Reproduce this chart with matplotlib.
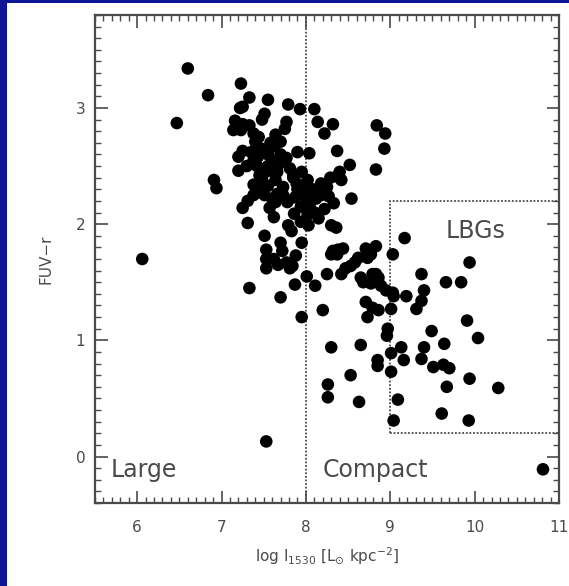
import matplotlib
matplotlib.use('Agg')
import matplotlib.pyplot as plt
from matplotlib.patches import Rectangle
from matplotlib.ticker import MultipleLocator

# log I_1530 and FUV-r
surf_bright = [
    6.60, 6.47, 6.84, 6.06, 6.91, 6.94, 7.23, 7.33, 7.55, 7.79,
    7.93, 8.10, 8.14, 8.22, 8.32, 8.84, 8.94, 8.93, 8.83, 8.37,
    8.52, 8.54, 8.04, 7.90, 7.53, 10.81, 7.33, 7.70, 7.95, 7.87,
    8.01, 8.11, 8.20, 8.25, 8.30, 8.26, 8.26, 8.53, 8.65, 8.63,
    9.09, 9.04, 9.61, 9.93, 10.28, 9.94, 9.67, 9.51, 9.63, 9.70,
    9.37, 9.16, 8.85, 8.85, 9.01, 9.01, 9.13, 9.40, 9.64, 9.49,
    10.04, 9.91, 8.97, 8.96, 9.94, 9.66, 9.84, 9.37, 9.17, 9.03,
    9.40, 9.37, 9.31, 9.19, 9.04, 9.01, 8.86, 8.71, 8.73, 9.03,
    8.95, 8.89, 8.83, 8.68, 8.65, 8.47, 8.53, 8.74, 8.83, 8.71,
    8.44, 8.37, 8.32, 7.84, 7.77, 8.79, 8.77, 8.86, 8.79, 8.58,
    8.62, 8.42, 8.30, 8.36, 8.38, 8.30, 8.18, 8.25, 8.27, 8.18,
    8.33, 8.37, 8.42, 8.29, 8.40, 8.22, 8.73, 8.77,
    7.25, 7.22, 7.51, 7.48, 7.77, 7.75, 7.25, 7.25, 7.16, 7.33,
    7.14, 7.23, 7.38, 7.44, 7.40, 7.64, 7.70, 7.62, 7.47, 7.55,
    7.20, 7.38, 7.42, 7.49, 7.55, 7.57, 7.70, 7.77, 7.20, 7.81,
    7.85, 7.85, 7.89, 7.98, 7.38, 7.47, 7.55, 7.64, 7.73, 7.31,
    7.25, 7.38, 7.51, 7.60, 7.66, 7.57, 7.64, 7.73, 7.78, 7.87,
    7.94, 8.01, 8.05, 7.94, 7.86, 7.62, 7.31, 7.51, 7.70, 7.79,
    7.83, 7.94, 8.03, 7.95, 7.53, 7.53, 7.53, 7.62, 7.67, 7.81,
    7.88, 7.72, 7.35, 7.45, 7.60, 7.66, 7.30, 7.95, 8.02, 8.08,
    8.12, 8.10, 8.15, 8.02, 7.43, 7.58, 7.68, 7.90, 8.06, 7.48,
]
fuv_r = [
    3.34, 2.87, 3.11, 1.70, 2.38, 2.31, 3.21, 3.09, 3.07, 3.03,
    2.99, 2.99, 2.88, 2.78, 2.86, 2.85, 2.78, 2.65, 2.47, 2.63,
    2.51, 2.22, 2.61, 2.62, 0.13, -0.11, 1.45, 1.37, 1.20, 1.48,
    1.55, 1.47, 1.26, 1.57, 0.94, 0.62, 0.51, 0.70, 0.96, 0.47,
    0.49, 0.31, 0.37, 0.31, 0.59, 0.67, 0.60, 0.77, 0.79, 0.76,
    0.84, 0.83, 0.83, 0.78, 0.89, 0.73, 0.94, 0.94, 0.97, 1.08,
    1.02, 1.17, 1.10, 1.04, 1.67, 1.50, 1.50, 1.57, 1.88, 1.74,
    1.43, 1.34, 1.27, 1.38, 1.38, 1.27, 1.26, 1.33, 1.20, 1.41,
    1.43, 1.47, 1.57, 1.50, 1.54, 1.62, 1.64, 1.73, 1.81, 1.79,
    1.79, 1.74, 1.77, 1.64, 1.67, 1.57, 1.49, 1.54, 1.28, 1.67,
    1.71, 1.57, 1.99, 1.97, 1.78, 1.74, 2.35, 2.32, 2.24, 2.25,
    2.18, 2.41, 2.38, 2.40, 2.45, 2.13, 1.71, 1.74,
    3.01, 3.00, 2.95, 2.90, 2.88, 2.82, 2.86, 2.63, 2.89, 2.85,
    2.81, 2.81, 2.78, 2.75, 2.71, 2.77, 2.71, 2.67, 2.65, 2.60,
    2.58, 2.55, 2.50, 2.47, 2.50, 2.46, 2.60, 2.57, 2.46, 2.48,
    2.43, 2.40, 2.35, 2.32, 2.34, 2.32, 2.33, 2.38, 2.32, 2.20,
    2.14, 2.25, 2.25, 2.22, 2.26, 2.14, 2.19, 2.25, 2.19, 2.23,
    2.26, 2.19, 2.14, 2.15, 2.09, 2.06, 2.01, 1.90, 1.84, 1.99,
    1.94, 2.02, 1.99, 1.84, 1.78, 1.70, 1.62, 1.70, 1.65, 1.62,
    1.73, 1.77, 2.62, 2.42, 2.55, 2.45, 2.50, 2.45, 2.38, 2.30,
    2.22, 2.10, 2.05, 2.08, 2.58, 2.70, 2.52, 2.30, 2.28, 2.40,
]

x_ticks = [6, 7, 8, 9, 10, 11]
y_ticks = [0, 1, 2, 3]
divide_x = 8.0
lbg_x = [9.0, 9.0, 11.0]
lbg_y = [0.2, 2.2, 2.2]
lbg_bottom_x = [9.0, 11.0]
lbg_bottom_y = [0.2, 0.2]

ink = '#4a4a4a'

fig = plt.figure(figsize=(5.69, 5.86), dpi=100, facecolor='#0e1696')
fig.add_artist(Rectangle((7 / 569, 0), 1, 583 / 586,
                         transform=fig.transFigure, facecolor='white',
                         edgecolor='none', zorder=-1))

ax = fig.add_axes([95 / 569, 83 / 586, 464 / 569, 488 / 586])
ax.set_facecolor('white')

ax.scatter(surf_bright, fuv_r, s=82, color='black', edgecolors='none',
           zorder=3)

ax.axvline(divide_x, color=ink, linestyle=(0, (1, 1)), linewidth=1.3)
ax.plot(lbg_x, lbg_y, color=ink, linestyle=(0, (1, 1)), linewidth=1.3)
ax.plot(lbg_bottom_x, lbg_bottom_y, color=ink, linestyle=(0, (1, 1)),
        linewidth=1.3)

ax.set_xlim(5.5, 11.0)
ax.set_ylim(-0.4, 3.8)
ax.set_xticks(x_ticks)
ax.set_yticks(y_ticks)
ax.xaxis.set_minor_locator(MultipleLocator(0.1))
ax.yaxis.set_minor_locator(MultipleLocator(0.1))
ax.tick_params(which='both', direction='in', top=True, right=True,
               color=ink, labelcolor=ink, labelsize=11)
ax.tick_params(which='major', length=9, width=1.2)
ax.tick_params(which='minor', length=4, width=1.0)
ax.tick_params(axis='x', which='major', pad=12)
ax.tick_params(axis='y', which='major', pad=7)
for spine in ax.spines.values():
    spine.set_color(ink)
    spine.set_linewidth(1.6)

ax.text(5.68, -0.175, 'Large', fontsize=17, color=ink, va='baseline')
ax.text(8.20, -0.175, 'Compact', fontsize=17, color=ink, va='baseline')
ax.text(9.66, 1.88, 'LBGs', fontsize=17, color=ink, va='baseline')

ax.set_ylabel('FUV\u2212r', fontsize=11, color=ink, labelpad=16)
ax.set_xlabel(r'log I$_{1530}$ [L$_{\odot}$ kpc$^{-2}$]', fontsize=11,
              color=ink, labelpad=8)

fig.savefig('out.png', dpi=100, facecolor=fig.get_facecolor())
